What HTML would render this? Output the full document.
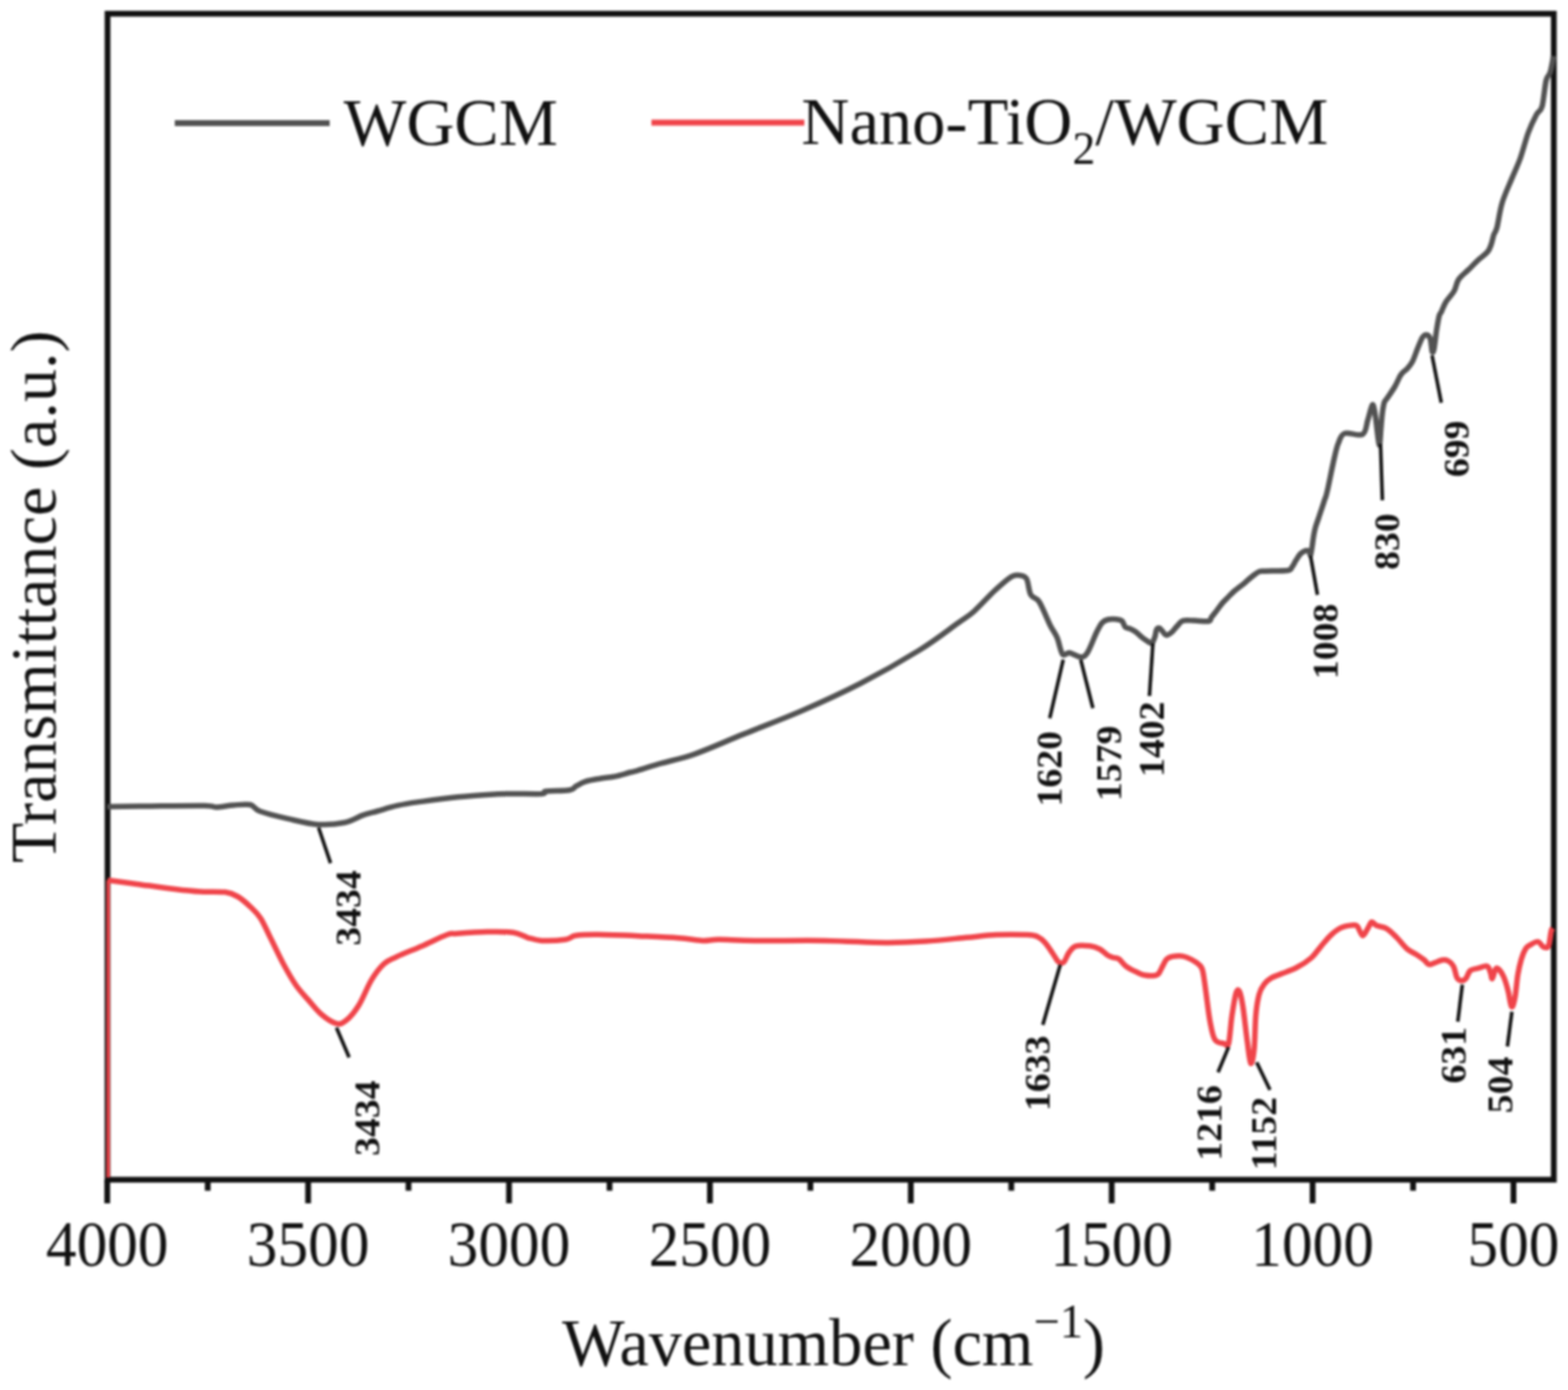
<!DOCTYPE html>
<html><head><meta charset="utf-8"><title>FTIR spectra of WGCM and Nano-TiO2/WGCM</title>
<style>html,body{margin:0;padding:0;background:#fff;}svg{display:block;filter:blur(0.9px);}</style>
</head><body>
<svg width="1579" height="1400" viewBox="0 0 1579 1400">
<rect width="1579" height="1400" fill="#fff"/>
<rect x="108.3" y="13.8" width="1456.4" height="1174.4" fill="none" stroke="#111" stroke-width="5.8"/>
<g stroke="#111" stroke-width="5.8"><line x1="108.0" y1="1188.2" x2="108.0" y2="1212"/><line x1="209.2" y1="1188.2" x2="209.2" y2="1199.3"/><line x1="310.3" y1="1188.2" x2="310.3" y2="1212"/><line x1="411.4" y1="1188.2" x2="411.4" y2="1199.3"/><line x1="512.6" y1="1188.2" x2="512.6" y2="1212"/><line x1="613.8" y1="1188.2" x2="613.8" y2="1199.3"/><line x1="714.9" y1="1188.2" x2="714.9" y2="1212"/><line x1="816.1" y1="1188.2" x2="816.1" y2="1199.3"/><line x1="917.2" y1="1188.2" x2="917.2" y2="1212"/><line x1="1018.4" y1="1188.2" x2="1018.4" y2="1199.3"/><line x1="1119.5" y1="1188.2" x2="1119.5" y2="1212"/><line x1="1220.7" y1="1188.2" x2="1220.7" y2="1199.3"/><line x1="1321.8" y1="1188.2" x2="1321.8" y2="1212"/><line x1="1423.0" y1="1188.2" x2="1423.0" y2="1199.3"/><line x1="1524.1" y1="1188.2" x2="1524.1" y2="1212"/></g>
<path d="M108.0,812.5 C115.0,812.4 133.7,812.2 150.0,812.0 C166.3,811.8 194.7,811.3 206.0,811.5 C217.3,811.7 213.2,813.1 218.0,813.0 C222.8,812.9 229.3,811.4 235.0,811.0 C240.7,810.6 247.6,809.5 252.0,810.5 C256.4,811.5 255.2,814.6 261.5,817.0 C267.8,819.4 280.2,822.4 290.0,824.6 C299.8,826.8 310.9,829.8 320.4,830.4 C329.9,831.0 339.4,830.1 347.0,828.5 C354.6,826.9 360.5,822.8 366.0,820.9 C371.5,819.0 374.3,818.6 380.0,817.0 C385.7,815.4 393.2,812.9 400.0,811.4 C406.8,809.9 410.3,809.3 420.5,807.9 C430.7,806.5 447.5,804.1 461.0,802.8 C474.5,801.4 492.0,800.4 501.6,799.8 C511.2,799.2 511.1,799.4 518.5,799.4 C525.9,799.4 540.8,800.0 546.0,799.6 C551.2,799.2 545.2,797.6 549.8,797.0 C554.4,796.4 568.5,796.7 573.6,795.8 C578.7,794.9 577.5,793.2 580.2,791.8 C582.9,790.3 585.7,788.4 589.7,787.1 C593.7,785.8 599.2,785.0 604.0,784.2 C608.8,783.4 613.5,783.2 618.2,782.3 C623.0,781.3 628.9,779.5 632.5,778.5 C636.1,777.5 634.8,778.1 640.0,776.6 C645.2,775.1 653.7,772.3 663.7,769.4 C673.7,766.5 685.8,764.3 700.0,759.3 C714.2,754.3 730.9,746.6 748.9,739.4 C766.9,732.1 788.2,724.3 807.8,715.8 C827.4,707.3 847.1,698.4 866.7,688.3 C886.3,678.2 909.2,665.1 925.6,655.0 C942.0,644.9 955.6,634.0 964.8,627.5 C974.0,621.0 974.7,621.2 980.9,615.7 C987.1,610.2 995.5,600.6 1001.8,594.8 C1008.1,589.0 1014.3,583.4 1018.5,580.9 C1022.7,578.4 1024.4,579.1 1026.9,579.5 C1029.5,579.9 1032.0,579.8 1033.8,583.0 C1035.6,586.2 1035.9,595.2 1038.0,599.0 C1040.1,602.8 1043.2,600.9 1046.4,606.0 C1049.7,611.1 1054.5,623.7 1057.5,629.7 C1060.5,635.7 1062.4,637.3 1064.5,642.2 C1066.6,647.1 1067.9,656.5 1070.0,659.0 C1072.1,661.5 1074.0,657.0 1077.0,657.5 C1080.0,658.0 1085.2,661.7 1088.2,661.7 C1091.2,661.7 1092.3,661.6 1095.0,657.5 C1097.7,653.4 1101.8,641.9 1104.3,636.8 C1106.8,631.7 1108.1,629.2 1110.0,627.1 C1111.9,625.0 1113.3,624.6 1115.7,624.0 C1118.1,623.4 1121.8,623.5 1124.2,623.7 C1126.6,623.9 1128.4,624.1 1129.9,625.4 C1131.4,626.7 1131.9,630.4 1133.3,631.7 C1134.7,633.0 1136.7,632.5 1138.5,633.4 C1140.3,634.2 1142.3,635.4 1144.2,636.8 C1146.1,638.2 1148.0,640.4 1149.9,641.9 C1151.8,643.4 1153.9,644.9 1155.6,645.9 C1157.3,646.9 1158.9,648.4 1160.1,647.6 C1161.3,646.9 1162.2,643.7 1163.0,641.4 C1163.8,639.1 1163.9,635.4 1164.7,634.0 C1165.5,632.6 1166.8,632.0 1168.1,632.8 C1169.4,633.5 1171.5,637.4 1172.7,638.5 C1173.9,639.6 1174.3,639.9 1175.5,639.6 C1176.7,639.3 1178.3,638.3 1180.0,636.8 C1181.7,635.2 1183.8,632.2 1185.7,630.3 C1187.6,628.3 1188.5,626.0 1191.4,625.1 C1194.3,624.2 1198.6,625.0 1202.9,625.1 C1207.2,625.2 1214.2,626.3 1217.1,625.7 C1219.9,625.1 1218.6,623.6 1220.0,621.7 C1221.4,619.8 1223.8,616.8 1225.7,614.3 C1227.6,611.8 1229.5,609.1 1231.4,606.9 C1233.3,604.7 1235.2,603.0 1237.1,601.1 C1239.0,599.2 1241.0,597.1 1242.9,595.4 C1244.8,593.7 1246.7,592.4 1248.6,590.9 C1250.5,589.4 1252.2,588.1 1254.3,586.3 C1256.4,584.5 1259.1,582.0 1261.4,580.3 C1263.7,578.5 1265.8,576.6 1267.9,575.8 C1270.1,574.9 1269.5,575.4 1274.3,575.2 C1279.1,575.0 1292.3,575.2 1296.8,574.5 C1301.3,573.8 1299.9,572.4 1301.3,570.7 C1302.7,569.0 1303.7,566.4 1305.1,564.3 C1306.5,562.1 1308.0,559.4 1309.6,557.8 C1311.2,556.2 1313.4,555.0 1314.8,554.6 C1316.2,554.2 1317.4,554.5 1318.2,555.3 C1319.0,556.0 1319.2,559.8 1319.7,559.1 C1320.2,558.5 1320.7,554.3 1321.2,551.4 C1321.7,548.5 1322.0,545.0 1322.5,541.8 C1323.0,538.6 1323.6,535.3 1324.4,532.1 C1325.2,528.9 1326.5,525.7 1327.6,522.5 C1328.7,519.3 1329.7,516.1 1330.8,512.9 C1331.9,509.7 1333.0,506.2 1334.0,503.2 C1335.0,500.2 1334.9,501.9 1336.5,495.0 C1338.1,488.1 1341.6,470.1 1343.5,462.0 C1345.4,453.9 1345.9,450.8 1347.7,446.5 C1349.5,442.2 1350.0,438.0 1354.1,436.5 C1358.2,435.0 1368.2,439.7 1372.1,437.5 C1376.0,435.3 1375.8,428.0 1377.3,423.4 C1378.8,418.8 1380.1,412.5 1381.1,410.0 C1382.0,407.5 1382.3,406.8 1383.0,408.5 C1383.7,410.2 1384.4,414.8 1385.2,420.0 C1386.0,425.2 1386.9,435.3 1387.6,440.0 C1388.3,444.7 1388.8,449.3 1389.3,448.0 C1389.8,446.7 1390.1,437.5 1390.6,432.0 C1391.1,426.5 1391.6,419.4 1392.2,415.0 C1392.8,410.6 1393.3,407.6 1394.0,405.4 C1394.7,403.1 1394.9,404.1 1396.6,401.5 C1398.3,398.9 1402.2,393.6 1404.3,390.0 C1406.4,386.4 1408.1,382.1 1409.4,379.7 C1410.7,377.3 1410.7,377.2 1412.0,375.8 C1413.3,374.4 1415.4,373.2 1417.1,371.3 C1418.8,369.4 1420.6,367.6 1422.3,364.3 C1424.0,361.0 1425.7,355.5 1427.4,351.4 C1429.1,347.3 1431.0,342.1 1432.5,339.8 C1434.0,337.5 1435.1,337.1 1436.4,337.3 C1437.7,337.5 1439.3,338.3 1440.3,341.1 C1441.3,343.9 1441.6,352.3 1442.2,354.0 C1442.8,355.7 1443.3,355.0 1444.1,351.4 C1444.8,347.8 1445.8,337.7 1446.7,332.1 C1447.6,326.5 1448.5,321.0 1449.3,318.0 C1450.1,315.0 1450.4,316.3 1451.5,314.0 C1452.6,311.7 1453.9,307.5 1456.1,304.0 C1458.2,300.5 1462.3,296.8 1464.4,293.0 C1466.5,289.2 1466.5,284.9 1468.9,281.4 C1471.3,277.9 1475.4,275.0 1478.6,271.8 C1481.8,268.6 1485.0,265.2 1488.2,262.2 C1491.4,259.2 1495.7,256.5 1497.9,253.8 C1500.2,251.1 1500.6,249.0 1501.7,246.1 C1502.8,243.2 1503.3,239.2 1504.3,236.4 C1505.3,233.6 1506.1,234.4 1507.5,229.0 C1508.9,223.6 1510.2,212.4 1512.7,204.2 C1515.2,196.0 1519.5,187.0 1522.5,179.6 C1525.5,172.2 1528.0,167.6 1530.8,159.9 C1533.5,152.2 1536.3,141.0 1539.0,133.6 C1541.7,126.2 1544.9,119.9 1547.2,115.5 C1549.5,111.1 1551.3,113.0 1552.9,107.3 C1554.5,101.5 1555.6,86.8 1557.0,81.0 C1558.4,75.2 1559.9,76.9 1561.1,72.8 C1562.3,68.7 1563.9,59.1 1564.4,56.4" fill="none" stroke="#525252" stroke-width="5.5" stroke-linejoin="round"/>
<path d="M108.5,886.6 C113.4,887.2 126.8,888.9 138.0,890.4 C149.2,891.9 165.4,894.2 176.0,895.5 C186.6,896.8 192.9,897.5 201.3,898.0 C209.8,898.5 220.4,897.8 226.7,898.6 C233.0,899.4 235.1,900.6 239.3,903.0 C243.5,905.4 248.1,909.5 252.0,913.2 C255.9,916.9 259.1,919.6 262.5,925.0 C265.9,930.4 268.9,937.7 272.7,945.3 C276.5,952.9 281.1,962.9 285.3,970.7 C289.5,978.5 293.8,986.1 298.0,992.2 C302.2,998.3 306.5,1002.5 310.7,1007.4 C314.9,1012.2 318.7,1017.4 323.3,1021.3 C327.9,1025.2 334.3,1029.7 338.5,1030.8 C342.7,1031.9 344.9,1030.8 348.7,1027.7 C352.5,1024.7 357.1,1019.3 361.3,1012.5 C365.5,1005.7 369.8,994.1 374.0,987.1 C378.2,980.1 382.5,974.6 386.7,970.7 C390.9,966.8 393.0,966.7 399.3,963.7 C405.6,960.7 416.2,956.6 424.7,952.9 C433.1,949.2 444.1,943.6 450.0,941.5 C455.9,939.4 453.5,940.8 460.3,940.3 C467.1,939.8 481.2,938.8 490.7,938.6 C500.1,938.4 510.2,938.3 517.0,939.3 C523.8,940.2 526.5,942.9 531.2,944.3 C535.9,945.6 539.0,947.1 545.4,947.4 C551.8,947.7 564.0,947.1 569.7,946.3 C575.4,945.4 574.4,943.1 579.8,942.3 C585.2,941.5 591.6,941.2 602.1,941.3 C612.6,941.4 629.2,942.1 642.7,942.7 C656.2,943.3 672.4,943.9 683.2,944.7 C694.0,945.5 700.8,947.1 707.5,947.4 C714.2,947.7 715.0,946.3 723.7,946.3 C732.5,946.3 742.1,947.2 760.0,947.4 C777.9,947.6 809.0,947.1 831.0,947.4 C853.0,947.7 875.0,949.3 891.9,949.4 C908.8,949.5 918.9,948.9 932.4,948.0 C945.9,947.1 961.2,945.4 973.0,944.3 C984.8,943.2 993.0,942.0 1003.3,941.5 C1013.6,941.0 1027.8,941.2 1034.8,941.6 C1041.8,942.0 1042.4,942.4 1045.3,943.7 C1048.2,945.0 1050.0,946.8 1052.3,949.3 C1054.6,951.8 1057.0,955.8 1059.2,959.0 C1061.4,962.2 1063.9,966.7 1065.5,968.5 C1067.1,970.3 1067.8,970.0 1068.8,970.0 C1069.8,970.0 1070.5,970.3 1071.8,968.5 C1073.1,966.7 1074.7,961.6 1076.7,959.0 C1078.7,956.4 1080.1,953.8 1083.6,952.8 C1087.1,951.8 1093.6,952.3 1097.6,952.8 C1101.6,953.3 1104.7,954.5 1107.6,956.0 C1110.5,957.5 1113.0,960.6 1115.2,962.0 C1117.4,963.4 1119.1,963.9 1121.0,964.5 C1122.9,965.1 1124.4,964.3 1126.6,965.8 C1128.8,967.3 1131.0,971.1 1134.2,973.4 C1137.4,975.7 1142.4,978.0 1145.6,979.5 C1148.8,981.0 1150.3,981.8 1153.2,982.3 C1156.1,982.8 1160.7,982.8 1163.0,982.5 C1165.3,982.2 1165.5,982.3 1166.9,980.5 C1168.3,978.7 1169.9,974.5 1171.4,971.9 C1172.9,969.3 1173.3,966.6 1176.0,965.1 C1178.7,963.6 1184.2,962.9 1187.4,962.8 C1190.6,962.7 1192.1,963.2 1195.0,964.3 C1197.9,965.4 1202.4,967.8 1204.9,969.6 C1207.4,971.4 1208.9,972.3 1210.2,975.0 C1211.5,977.7 1211.8,981.4 1212.5,985.6 C1213.2,989.8 1213.5,992.8 1214.5,1000.0 C1215.5,1007.2 1217.0,1020.9 1218.5,1028.7 C1220.0,1036.5 1221.0,1043.2 1223.4,1046.9 C1225.8,1050.7 1230.6,1050.5 1232.9,1051.2 C1235.2,1051.9 1235.9,1055.9 1237.2,1051.2 C1238.5,1046.5 1239.3,1031.5 1240.6,1022.9 C1241.9,1014.3 1243.6,1003.7 1244.9,999.7 C1246.2,995.7 1247.2,996.5 1248.3,998.9 C1249.4,1001.3 1250.4,1006.0 1251.7,1014.3 C1253.0,1022.6 1254.7,1039.2 1256.0,1048.6 C1257.3,1058.0 1258.3,1069.5 1259.5,1070.9 C1260.7,1072.3 1262.1,1065.2 1262.9,1057.2 C1263.8,1049.2 1263.8,1032.2 1264.6,1022.9 C1265.4,1013.6 1266.6,1006.7 1268.0,1001.4 C1269.4,996.1 1271.2,993.8 1273.2,991.1 C1275.2,988.4 1277.2,986.8 1280.0,985.1 C1282.8,983.4 1285.9,982.6 1290.1,980.9 C1294.3,979.2 1300.2,977.5 1305.3,974.8 C1310.4,972.1 1316.3,968.4 1320.5,964.7 C1324.7,961.0 1327.3,956.5 1330.7,952.6 C1334.1,948.7 1337.4,944.5 1340.8,941.4 C1344.2,938.3 1347.2,935.9 1350.9,934.3 C1354.6,932.7 1360.4,932.0 1363.1,931.8 C1365.8,931.6 1365.6,931.5 1367.1,933.3 C1368.6,935.1 1370.5,942.1 1372.2,942.4 C1373.9,942.7 1375.8,937.6 1377.3,935.3 C1378.8,933.0 1379.8,929.2 1381.3,928.7 C1382.8,928.2 1383.9,931.2 1386.4,932.3 C1388.9,933.4 1393.1,933.3 1396.5,935.3 C1399.9,937.3 1403.2,941.0 1406.6,944.4 C1410.0,947.8 1413.4,952.7 1416.8,955.6 C1420.2,958.5 1424.0,959.8 1426.9,961.7 C1429.8,963.6 1432.4,965.4 1434.4,967.0 C1436.4,968.6 1437.1,971.0 1438.9,971.4 C1440.7,971.8 1442.9,970.3 1445.1,969.6 C1447.3,968.9 1450.0,967.3 1452.2,967.0 C1454.4,966.7 1456.5,966.9 1458.4,967.9 C1460.3,968.9 1462.2,970.4 1463.7,973.2 C1465.2,976.0 1465.9,982.3 1467.2,984.7 C1468.5,987.1 1470.2,987.6 1471.7,987.8 C1473.2,987.9 1474.6,987.3 1476.1,985.6 C1477.6,983.9 1478.6,979.3 1480.5,977.6 C1482.4,975.9 1484.8,976.1 1487.6,975.4 C1490.4,974.7 1495.2,972.5 1497.4,973.2 C1499.6,973.9 1500.0,977.3 1500.9,979.4 C1501.8,981.5 1501.8,986.2 1502.7,985.6 C1503.6,985.0 1505.0,977.4 1506.2,975.9 C1507.4,974.4 1508.5,975.4 1509.8,976.7 C1511.1,978.0 1512.7,980.2 1514.2,983.8 C1515.7,987.3 1517.4,993.0 1518.7,998.0 C1520.0,1003.0 1521.0,1013.0 1522.2,1014.0 C1523.4,1015.0 1524.7,1009.5 1525.7,1004.2 C1526.7,998.9 1527.4,988.5 1528.4,982.1 C1529.5,975.8 1530.7,970.5 1532.0,966.1 C1533.3,961.7 1534.9,957.9 1536.4,955.5 C1537.9,953.1 1538.7,953.1 1540.8,951.9 C1542.9,950.7 1546.6,948.1 1548.8,948.4 C1551.0,948.7 1552.3,953.0 1554.1,953.7 C1555.9,954.4 1558.1,955.5 1559.4,952.8 C1560.7,950.1 1561.3,940.7 1562.1,937.7 C1562.8,934.8 1563.6,935.5 1563.9,935.1" fill="none" stroke="#f0444a" stroke-width="5.5" stroke-linejoin="round"/>
<line x1="109" y1="1186" x2="109" y2="886.6" stroke="#f0444a" stroke-width="3.4"/>
<g font-family="Liberation Serif, 'Times New Roman', serif" font-size="65" fill="#111" text-anchor="middle"><text transform="translate(108.0,1275) scale(0.95,1)">4000</text><text transform="translate(310.3,1275) scale(0.95,1)">3500</text><text transform="translate(512.6,1275) scale(0.95,1)">3000</text><text transform="translate(714.9,1275) scale(0.95,1)">2500</text><text transform="translate(917.2,1275) scale(0.95,1)">2000</text><text transform="translate(1119.5,1275) scale(0.95,1)">1500</text><text transform="translate(1321.8,1275) scale(0.95,1)">1000</text><text transform="translate(1524.1,1275) scale(0.95,1)">500</text></g>
<text transform="translate(566,1375) scale(0.975,1)" font-family="Liberation Serif, 'Times New Roman', serif" font-size="68.5" fill="#111">Wavenumber (cm<tspan dy="-28" font-size="48">&#8722;1</tspan><tspan dy="28">)</tspan></text>
<text transform="translate(56,601) rotate(-90) scale(1,0.97)" text-anchor="middle" font-family="Liberation Serif, 'Times New Roman', serif" font-size="66.7" fill="#111">Transmittance (a.u.)</text>
<line x1="176" y1="124" x2="332" y2="124" stroke="#525252" stroke-width="6"/>
<text transform="translate(346,145.5) scale(1.0,1)" font-family="Liberation Serif, 'Times New Roman', serif" font-size="67" fill="#111">WGCM</text>
<line x1="656" y1="123.4" x2="810" y2="123.4" stroke="#f0444a" stroke-width="6"/>
<text transform="translate(807,145) scale(1.0,1)" font-family="Liberation Serif, 'Times New Roman', serif" font-size="67" fill="#111">Nano-TiO<tspan dy="20" font-size="46">2</tspan><tspan dy="-20">/WGCM</tspan></text>
<g stroke="#111" stroke-width="3.6"><line x1="320.8" y1="833.5" x2="332.9" y2="869.3"/><line x1="1070.7" y1="664.4" x2="1057.1" y2="723.4"/><line x1="1088.3" y1="664.4" x2="1100.6" y2="713.3"/><line x1="1161" y1="648" x2="1157.5" y2="701"/><line x1="1319.7" y1="559.8" x2="1326.7" y2="599.1"/><line x1="1390.2" y1="447" x2="1392.1" y2="503.9"/><line x1="1442.1" y1="358" x2="1451.4" y2="405.7"/><line x1="338.8" y1="1035" x2="351.6" y2="1065"/><line x1="1067.7" y1="971.7" x2="1050.1" y2="1032.2"/><line x1="1237.2" y1="1054.6" x2="1226.6" y2="1080"/><line x1="1265.5" y1="1070" x2="1278.9" y2="1097.8"/><line x1="1472.6" y1="991.8" x2="1468" y2="1029"/><line x1="1522.5" y1="1019" x2="1518" y2="1054"/></g>
<g font-family="Liberation Serif, 'Times New Roman', serif" font-weight="bold" font-size="38" fill="#111" stroke="#111" stroke-width="0" text-anchor="middle"><text transform="translate(362.7,914.5) rotate(-90) scale(1,0.95)">3434</text><text transform="translate(1069.2,774.3) rotate(-90) scale(1,0.95)">1620</text><text transform="translate(1128.7,768.8) rotate(-90) scale(1,0.95)">1579</text><text transform="translate(1171.7,744.4) rotate(-90) scale(1,0.95)">1402</text><text transform="translate(1346.7,646.1) rotate(-90) scale(1,0.95)">1008</text><text transform="translate(1409.2,545.4) rotate(-90) scale(1,0.95)">830</text><text transform="translate(1478.7,451.9) rotate(-90) scale(1,0.95)">699</text><text transform="translate(381.5,1126.3) rotate(-90) scale(1,0.95)">3434</text><text transform="translate(1057.2,1080.9) rotate(-90) scale(1,0.95)">1633</text><text transform="translate(1230.0,1130.9) rotate(-90) scale(1,0.95)">1216</text><text transform="translate(1285.0,1141.6) rotate(-90) scale(1,0.95)">1152</text><text transform="translate(1476.0,1062.8) rotate(-90) scale(1,0.95)">631</text><text transform="translate(1523.0,1092.8) rotate(-90) scale(1,0.95)">504</text></g>
</svg>
</body></html>
